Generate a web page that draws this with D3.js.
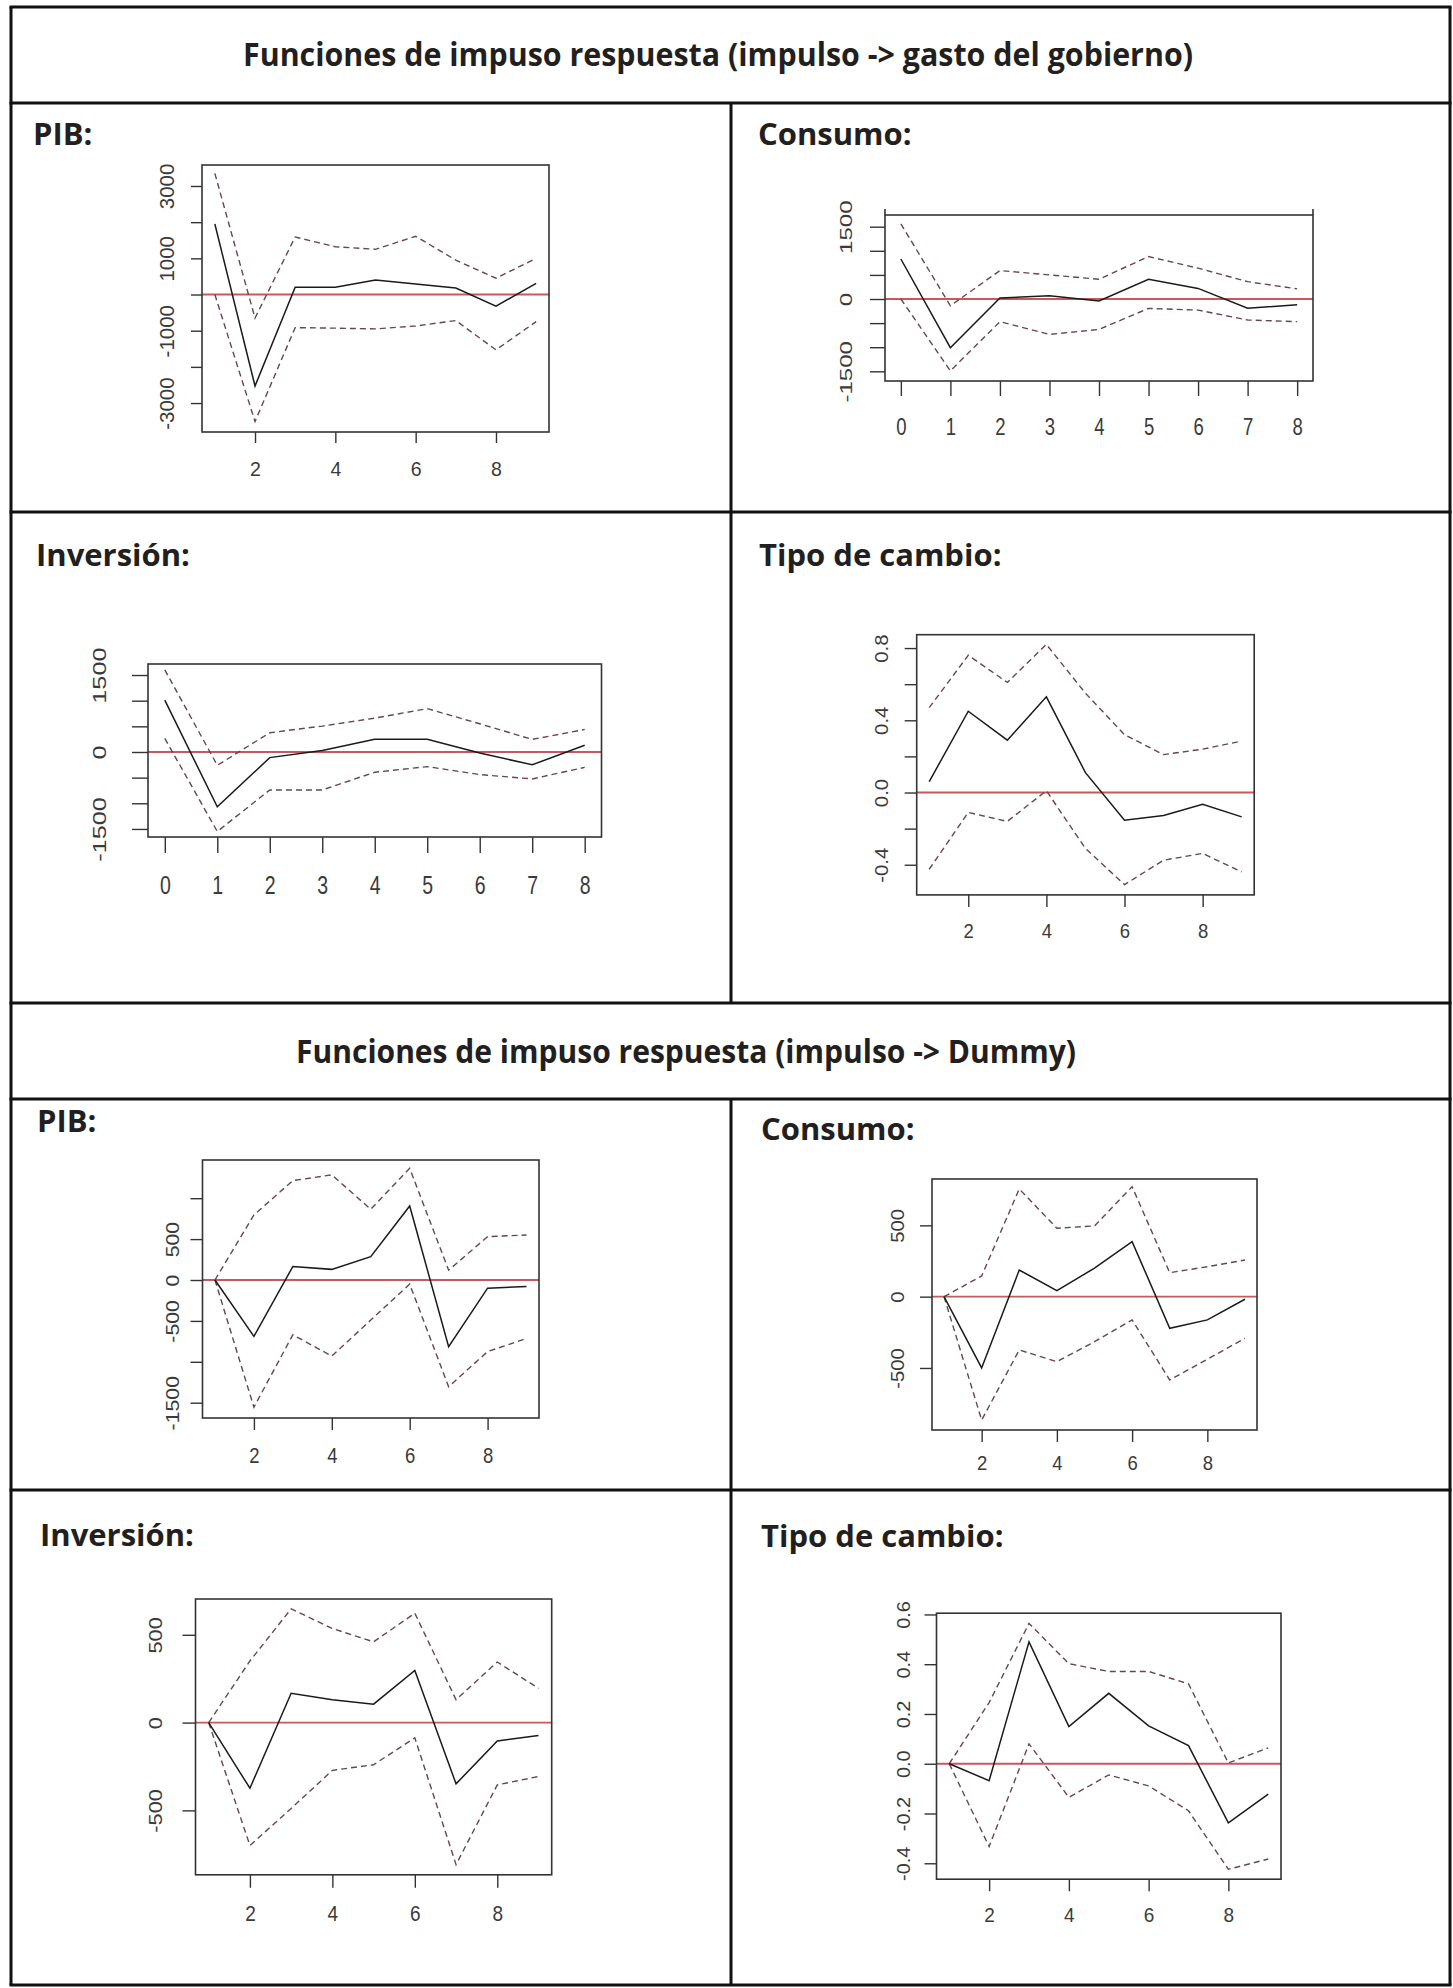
<!DOCTYPE html>
<html>
<head>
<meta charset="utf-8">
<script src="https://cdn.jsdelivr.net/npm/d3@7"></script>
<style>
  html, body { margin: 0; padding: 0; background: #fff; }
  svg { display: block; }
</style>
</head>
<body>
<script>
// periodos del eje x
var periodos1a9 = [1, 2, 3, 4, 5, 6, 7, 8, 9],
    periodos0a8 = [0, 1, 2, 3, 4, 5, 6, 7, 8];

// impulso -> gasto del gobierno
var gastoPIB    = [1950, -2530, 200, 200, 400, 290, 180, -320, 310],
    gastoPIBSup = [3350, -650, 1590, 1320, 1250, 1610, 950, 450, 1000],
    gastoPIBInf = [0, -3510, -915, -930, -950, -870, -720, -1530, -750];

var gastoConsumo    = [830, -1010, 20, 70, -40, 410, 220, -190, -120],
    gastoConsumoSup = [1560, -140, 590, 500, 410, 880, 640, 360, 210],
    gastoConsumoInf = [0, -1490, -470, -735, -630, -195, -230, -435, -470];

var gastoInversion    = [1010, -1070, -110, 30, 250, 250, -20, -250, 130],
    gastoInversionSup = [1600, -260, 375, 505, 660, 845, 550, 245, 440],
    gastoInversionInf = [265, -1550, -740, -740, -395, -285, -440, -525, -300];

var gastoCambio    = [0.06, 0.45, 0.29, 0.53, 0.11, -0.153, -0.127, -0.065, -0.135],
    gastoCambioSup = [0.47, 0.76, 0.61, 0.82, 0.55, 0.32, 0.21, 0.24, 0.285],
    gastoCambioInf = [-0.425, -0.11, -0.16, 0.01, -0.31, -0.51, -0.375, -0.337, -0.44];

// impulso -> Dummy
var dummyPIB    = [0, -690, 165, 130, 285, 905, -815, -100, -80],
    dummyPIBSup = [0, 795, 1215, 1285, 865, 1365, 120, 530, 550],
    dummyPIBInf = [0, -1555, -670, -930, -490, -50, -1305, -875, -715];

var dummyConsumo    = [0, -500, 187, 42, 200, 386, -222, -163, -18],
    dummyConsumoSup = [0, 145, 755, 480, 496, 771, 168, 210, 257],
    dummyConsumoInf = [0, -865, -374, -456, -316, -163, -584, -439, -292];

var dummyInversion    = [0, -374, 167, 130, 105, 297, -349, -105, -73],
    dummyInversionSup = [0, 351, 648, 536, 460, 623, 130, 345, 195],
    dummyInversionInf = [0, -700, -489, -272, -240, -87, -809, -355, -307];

var dummyCambio    = [0, -0.068, 0.49, 0.149, 0.283, 0.152, 0.073, -0.238, -0.122],
    dummyCambioSup = [0, 0.246, 0.564, 0.402, 0.371, 0.371, 0.321, 0.003, 0.064],
    dummyCambioInf = [0, -0.333, 0.08, -0.135, -0.045, -0.089, -0.189, -0.424, -0.383];

// ticks y etiquetas
var ticksX1a9 = [2, 4, 6, 8],
    ticksX0a8 = [0, 1, 2, 3, 4, 5, 6, 7, 8];

var ticksPIBGasto = [-3000, -2000, -1000, 0, 1000, 2000, 3000],
    etiqPIBGasto  = [-3000, -1000, 1000, 3000],
    ticks1500     = [-1500, -1000, -500, 0, 500, 1000, 1500],
    etiq1500      = [-1500, 0, 1500],
    ticksCambioGasto = [-0.4, -0.2, 0, 0.2, 0.4, 0.6, 0.8],
    etiqCambioGasto  = [-0.4, 0, 0.4, 0.8],
    ticksPIBDummy = [-1500, -1000, -500, 0, 500, 1000],
    etiqPIBDummy  = [-1500, -500, 0, 500],
    ticks500      = [-500, 0, 500],
    ticksCambioDummy = [-0.4, -0.2, 0, 0.2, 0.4, 0.6];

var svgWidth = 1453,
    svgHeight = 1988,
    headerFont = "'Open Sans', 'DejaVu Sans', sans-serif",
    axisFont = "'Liberation Sans', Arial, sans-serif";

var svg = d3.select("body").append("svg")
    .attr("width", svgWidth)
    .attr("height", svgHeight);

// marco de la tabla
var bordeX = [11, 1450],
    filasY = [7, 103, 512, 1003, 1099, 1490, 1985],
    colX = 731;

var grid = svg.append("g")
    .attr("stroke", "#111")
    .attr("stroke-width", 3);

filasY.forEach(function(y) {
    grid.append("line").attr("x1", bordeX[0] - 1.5).attr("x2", bordeX[1] + 1.5).attr("y1", y).attr("y2", y);
});
bordeX.forEach(function(x) {
    grid.append("line").attr("x1", x).attr("x2", x).attr("y1", filasY[0]).attr("y2", filasY[6]);
});
[[filasY[1], filasY[3]], [filasY[4], filasY[6]]].forEach(function(r) {
    grid.append("line").attr("x1", colX).attr("x2", colX).attr("y1", r[0]).attr("y2", r[1]);
});

// titulos
var titulos = [
    { text: "Funciones de impuso respuesta (impulso -> gasto del gobierno)", x: 718, y: 66, w: 950 },
    { text: "Funciones de impuso respuesta (impulso -> Dummy)", x: 686, y: 1063, w: 780 }
];

svg.selectAll("text.titulo")
    .data(titulos)
    .enter()
        .append("text")
            .attr("class", "titulo")
            .attr("x", function(d) { return d.x; })
            .attr("y", function(d) { return d.y; })
            .attr("text-anchor", "middle")
            .attr("textLength", function(d) { return d.w; })
            .attr("lengthAdjust", "spacingAndGlyphs")
            .style("font-family", headerFont)
            .style("font-weight", 700)
            .style("font-size", "32px")
            .style("fill", "#231f20")
            .text(function(d) { return d.text; });

var etiquetas = [
    { text: "PIB:", x: 33, y: 145 },
    { text: "Consumo:", x: 758, y: 145 },
    { text: "Inversión:", x: 36, y: 566 },
    { text: "Tipo de cambio:", x: 759, y: 566 },
    { text: "PIB:", x: 37, y: 1132 },
    { text: "Consumo:", x: 761, y: 1140 },
    { text: "Inversión:", x: 40, y: 1546 },
    { text: "Tipo de cambio:", x: 761, y: 1547 }
];

svg.selectAll("text.etiqueta")
    .data(etiquetas)
    .enter()
        .append("text")
            .attr("class", "etiqueta")
            .attr("x", function(d) { return d.x; })
            .attr("y", function(d) { return d.y; })
            .style("font-family", headerFont)
            .style("font-weight", 700)
            .style("font-size", "31px")
            .style("fill", "#231f20")
            .text(function(d) { return d.text; });

// paneles (sx, sy: deformacion del texto de la imagen original)
var paneles = [
    { caja: [202, 165, 549, 432], xDom: [0.68, 9.32], yDom: [-3800, 3580], x: periodos1a9,
      irf: gastoPIB, sup: gastoPIBSup, inf: gastoPIBInf,
      xt: ticksX1a9, yt: ticksPIBGasto, ye: etiqPIBGasto,
      fs: 19.5, sx: 1, sy: 1.05, tk: 11, yOff: 35, xOff: 37 },
    { caja: [885, 215, 1313, 381], xDom: [-0.32, 8.32], yDom: [-1701, 1743], x: periodos0a8,
      irf: gastoConsumo, sup: gastoConsumoSup, inf: gastoConsumoInf,
      xt: ticksX0a8, yt: ticks1500, ye: etiq1500,
      fs: 18.5, sx: 0.85, sy: 1.3, tk: 15, yOff: 39, xOff: 45, esquinas: true },
    { caja: [148, 664, 601.5, 837], xDom: [-0.32, 8.32], yDom: [-1657, 1715], x: periodos0a8,
      irf: gastoInversion, sup: gastoInversionSup, inf: gastoInversionInf,
      xt: ticksX0a8, yt: ticks1500, ye: etiq1500,
      fs: 19.5, sx: 0.9, sy: 1.3, tk: 16, yOff: 48, xOff: 48 },
    { caja: [916.7, 634.7, 1254.2, 894.9], xDom: [0.68, 9.32], yDom: [-0.567, 0.874], x: periodos1a9,
      irf: gastoCambio, sup: gastoCambioSup, inf: gastoCambioInf,
      xt: ticksX1a9, yt: ticksCambioGasto, ye: etiqCambioGasto,
      fs: 18.5, sx: 1, sy: 1.1, tk: 12, yOff: 35, xOff: 36 },
    { caja: [202.5, 1160, 539, 1418], xDom: [0.68, 9.32], yDom: [-1687, 1467], x: periodos1a9,
      irf: dummyPIB, sup: dummyPIBSup, inf: dummyPIBInf,
      xt: ticksX1a9, yt: ticksPIBDummy, ye: etiqPIBDummy,
      fs: 18.5, sx: 1, sy: 1.15, tk: 12, yOff: 30, xOff: 37 },
    { caja: [932, 1179, 1257, 1430], xDom: [0.68, 9.32], yDom: [-935, 825], x: periodos1a9,
      irf: dummyConsumo, sup: dummyConsumoSup, inf: dummyConsumoInf,
      xt: ticksX1a9, yt: ticks500, ye: ticks500,
      fs: 18.5, sx: 1, sy: 1.1, tk: 12, yOff: 35, xOff: 33 },
    { caja: [195.5, 1599, 551.7, 1874.8], xDom: [0.68, 9.32], yDom: [-867, 704], x: periodos1a9,
      irf: dummyInversion, sup: dummyInversionSup, inf: dummyInversionInf,
      xt: ticksX1a9, yt: ticks500, ye: ticks500,
      fs: 19, sx: 1, sy: 1.15, tk: 13, yOff: 40, xOff: 38 },
    { caja: [936.5, 1613.2, 1281, 1879.2], xDom: [0.68, 9.32], yDom: [-0.464, 0.605], x: periodos1a9,
      irf: dummyCambio, sup: dummyCambioSup, inf: dummyCambioInf,
      xt: ticksX1a9, yt: ticksCambioDummy, ye: ticksCambioDummy,
      fs: 19, sx: 1, sy: 1.05, tk: 12, yOff: 33.5, xOff: 36 }
];

paneles.forEach(function(p) {
    var c = p.caja,
        decimal = Math.abs(p.yDom[1]) < 2;

    var x = d3.scaleLinear().domain(p.xDom).range([c[0], c[2]]),
        y = d3.scaleLinear().domain(p.yDom).range([c[3], c[1]]);

    var g = svg.append("g");

    // eje y
    var ejeY = g.append("g")
        .attr("transform", "translate(" + c[0] + ",0)")
        .call(d3.axisLeft(y).tickValues(p.yt).tickSize(p.tk).tickFormat(function(d) {
            if (p.ye.indexOf(d) < 0) return "";
            return decimal ? d.toFixed(1) : String(d);
        }));
    ejeY.select(".domain").remove();
    ejeY.selectAll("line").attr("stroke", "#333").attr("stroke-width", 1.4);
    ejeY.selectAll("text")
        .attr("x", null)
        .attr("text-anchor", "middle")
        .attr("transform", "translate(" + (-p.yOff) + ",0) scale(" + p.sx + "," + p.sy + ") rotate(-90)")
        .attr("dy", "0.36em")
        .style("font-family", axisFont)
        .style("font-size", p.fs + "px")
        .style("fill", "#3a3a3a");

    // eje x
    var ejeX = g.append("g")
        .attr("transform", "translate(0," + c[3] + ")")
        .call(d3.axisBottom(x).tickValues(p.xt).tickSize(p.tk).tickFormat(d3.format("d")));
    ejeX.select(".domain").remove();
    ejeX.selectAll("line").attr("stroke", "#333").attr("stroke-width", 1.4);
    ejeX.selectAll("text")
        .attr("y", null)
        .attr("text-anchor", "middle")
        .attr("transform", "translate(0," + p.xOff + ") scale(1," + p.sy + ")")
        .attr("dy", "0.36em")
        .style("font-family", axisFont)
        .style("font-size", p.fs + "px")
        .style("fill", "#3a3a3a");

    // linea cero
    g.append("line")
        .attr("x1", c[0]).attr("x2", c[2])
        .attr("y1", y(0)).attr("y2", y(0))
        .attr("stroke", "#c8585c")
        .attr("stroke-width", 1.8);

    var linea = d3.line()
        .x(function(d, i) { return x(p.x[i]); })
        .y(function(d) { return y(d); });

    [p.sup, p.inf].forEach(function(serie) {
        g.append("path")
            .attr("d", linea(serie))
            .attr("fill", "none")
            .attr("stroke", "#6a454b")
            .attr("stroke-width", 1.4)
            .attr("stroke-dasharray", "6,4");
    });

    g.append("path")
        .attr("d", linea(p.irf))
        .attr("fill", "none")
        .attr("stroke", "#1a1a1a")
        .attr("stroke-width", 1.5);

    // caja
    g.append("rect")
        .attr("x", c[0]).attr("y", c[1])
        .attr("width", c[2] - c[0]).attr("height", c[3] - c[1])
        .attr("fill", "none")
        .attr("stroke", "#333")
        .attr("stroke-width", 1.6);

    if (p.esquinas) {
        [c[0], c[2]].forEach(function(cx) {
            g.append("line")
                .attr("x1", cx).attr("x2", cx)
                .attr("y1", c[1] - 6).attr("y2", c[1])
                .attr("stroke", "#333").attr("stroke-width", 1.6);
        });
    }
});
</script>
</body>
</html>
